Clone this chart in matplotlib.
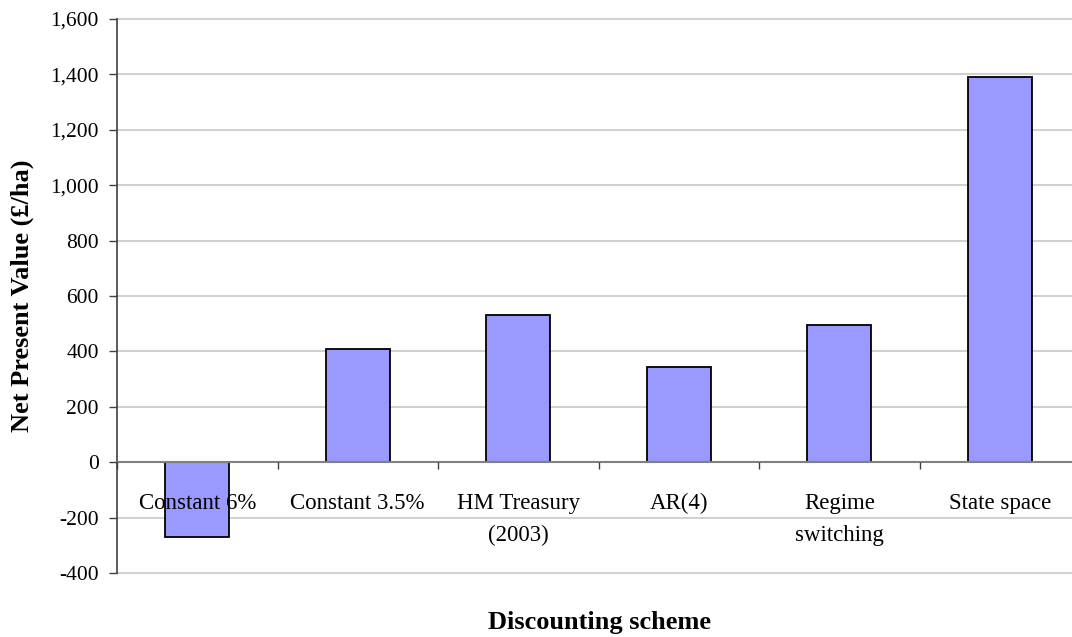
import numpy as np
import matplotlib.pyplot as plt
from matplotlib.ticker import FuncFormatter, MultipleLocator

# NPV under each discounting scheme
schemes = ['Constant 6%', 'Constant 3.5%', 'HM Treasury\n(2003)', 'AR(4)',
           'Regime\nswitching', 'State space']
npv = [-270, 408, 531, 343, 495, 1390]

plt.rcParams['font.family'] = ['Liberation Serif', 'DejaVu Serif']

fig = plt.figure(figsize=(10.72, 6.37), dpi=100)
ax = fig.add_axes([117/1072, 1 - 573/637, 963/1072, 554/637])

x = np.arange(len(schemes))
ax.bar(x, npv, width=0.4, color='#9999ff', edgecolor='black', linewidth=1.3, zorder=1)

# gridlines behind the bars, tick labels drawn on top of them
for v in np.arange(-400, 1601, 200):
    ax.axhline(v, color='#c8c8c8', linewidth=1.2, zorder=0, clip_on=False)
ax.set_axisbelow(False)

# y axis
ax.set_ylim(-400, 1600)
ax.yaxis.set_major_locator(MultipleLocator(200))
ax.yaxis.set_major_formatter(FuncFormatter(lambda v, p: f'{v:,.0f}'))
ax.tick_params(axis='y', direction='out', length=6, width=1, color='#404040',
               labelsize=15.5, pad=7)

# x axis sits on zero, ticks between categories
ax.set_xlim(-0.5, 5.5)
ax.spines['bottom'].set_position(('data', 0))
ax.spines['bottom'].set_color('#808080')
ax.spines['bottom'].set_linewidth(1.5)
ax.spines['left'].set_color('#404040')
ax.spines['left'].set_linewidth(1.2)
ax.spines['top'].set_visible(False)
ax.spines['right'].set_visible(False)
ax.set_xticks(x)
ax.set_xticklabels(schemes, linespacing=1.7)
ax.set_xticks(np.arange(-0.5, 6, 1), minor=True)
ax.tick_params(axis='x', which='major', length=0, labelsize=16.5, pad=22)
ax.tick_params(axis='x', which='minor', direction='out', length=5, width=1,
               color='#404040')

ax.set_ylabel('Net Present Value (£/ha)', fontsize=19, fontweight='bold', labelpad=12)
fig.text(599/1072, 1 - 622/637, 'Discounting scheme', fontsize=19,
         fontweight='bold', ha='center', va='center')

fig.savefig('out.png', dpi=100)
